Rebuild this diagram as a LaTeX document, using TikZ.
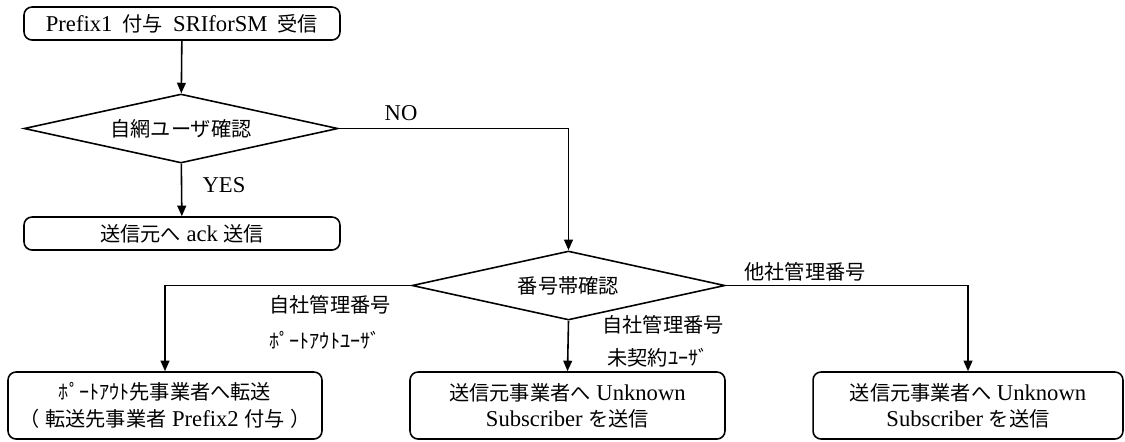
\documentclass[tikz,border=0pt]{standalone}
\usepackage{fontspec}
\usepackage{tikz}
\usetikzlibrary{shapes.geometric, arrows.meta}
\setmainfont{Liberation Serif}[Scale=1.12]
\newfontfamily\jpfont{Noto Sans CJK JP}
\newcommand{\jp}[1]{{\jpfont #1}}

\begin{document}
\begin{tikzpicture}[x=0.02cm, y=-0.02cm,
  font=\fontsize{11.5}{15}\selectfont,
  box/.style={draw, line width=0.9pt, rounded corners=0.16cm, minimum width=6.32cm,
    minimum height=0.66cm, inner sep=0pt, align=center},
  decision/.style={draw, line width=0.9pt, diamond, shape aspect=4.5, minimum width=6.28cm,
    minimum height=1.38cm, inner sep=0pt},
  flow/.style={line width=0.9pt, -{Triangle[width=5pt, length=6pt]}},
  lbl/.style={inner sep=0pt}]
  \useasboundingbox (0,0) rectangle (1125,441);
  % top part
  \node[box] (recv) at (182, 23.5)
    {Prefix1\hspace{0.45em}\jp{付与}\hspace{0.45em}SRIforSM\hspace{0.45em}\jp{受信}};
  \node[decision] (own) at (181, 128.5) {\jp{自網ユーザ確認}};
  \node[box] (ack) at (182, 233.5) {\jp{送信元へ} ack \jp{送信}};
  % number range check
  \node[decision, minimum width=6.26cm] (range) at (568.5, 285.5) {\jp{番号帯確認}};
  % result boxes
  \node[box, minimum width=6.28cm, minimum height=1.34cm] (portout) at (165, 405.5)
    {\jp{ﾎﾟｰﾄｱｳﾄ先事業者へ転送}\\\jp{（}\ \jp{転送先事業者} Prefix2 \jp{付与}\ \jp{）}};
  \node[box, minimum width=6.30cm, minimum height=1.34cm] (unk1) at (567.5, 405.5)
    {\jp{送信元事業者へ} Unknown\\Subscriber \jp{を送信}};
  \node[box, minimum width=6.20cm, minimum height=1.34cm] (unk2) at (968, 405.5)
    {\jp{送信元事業者へ} Unknown\\Subscriber \jp{を送信}};
  % connectors
  \draw[flow] (recv) -- (own);
  \draw[flow] (own) -- (ack);
  \draw[flow] (own.east) -| (range.north);
  \draw[flow] (range.west) -| (portout.north);
  \draw[flow] (range.south) -- (unk1.north);
  \draw[flow] (range.east) -| (unk2.north);
  % branch labels
  \node[lbl] (yes) at (224, 185) {YES};
  \node[lbl] (no) at (401, 113) {NO};
  \node[lbl] (ownA) at (330, 305) {\jp{自社管理番号}};
  \node[lbl] (ownB) at (325, 340) {\jp{ﾎﾟｰﾄｱｳﾄﾕｰｻﾞ}};
  \node[lbl] (ownC) at (663, 325) {\jp{自社管理番号}};
  \node[lbl] (ownD) at (658, 358) {\jp{未契約ﾕｰｻﾞ}};
  \node[lbl] (other) at (805, 272) {\jp{他社管理番号}};
\end{tikzpicture}
\end{document}
